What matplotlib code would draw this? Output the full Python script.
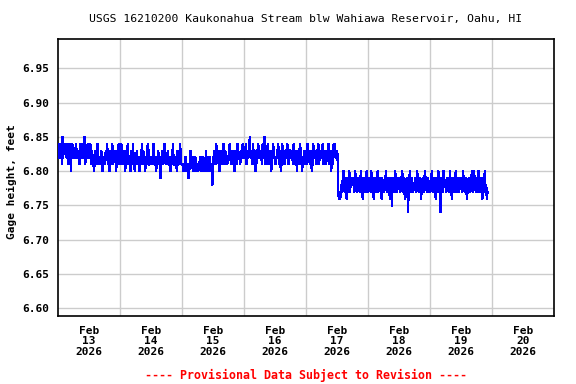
import matplotlib
matplotlib.use("Agg")
import matplotlib.pyplot as plt
import matplotlib.dates as mdates
import numpy as np
import pandas as pd

title = "USGS 16210200 Kaukonahua Stream blw Wahiawa Reservoir, Oahu, HI"
ylabel = "Gage height, feet"
footer = "---- Provisional Data Subject to Revision ----"
start_time = "2026-02-13 00:00"
interval = "15min"

# Gage height readings (15-min), coded as hundredths of a foot above a base
upper_base = 6.78   # Feb 13 00:00 - Feb 17 12:15
upper_codes = [
    "564656374656546536462565",
    "454564545365464547345464",
    "446354432543465344354243",
    "435464342543634454245365",
    "346343452443643424536432",
    "435434243463534243465334",
    "343463342435434135434643",
    "435334243463343425334643",
    "332324423312353432342423",
    "323342423423252343243230",
    "345436454325434564354434",
    "456434543245436544345465",
    "445635445745436454234564",
    "454436547344563445234654",
    "434456345236544354564345",
    "545436453425435634244354",
    "436544354236554434563445",
    "45634453454634524356654454",
]
lower_base = 6.74   # Feb 17 12:30 - Feb 19 22:15
lower_codes = [
    "3222343564345234563454",
    "454365434543464325434563",
    "345436543254345634543254",
    "434563454325414543654345",
    "543456345234540456345434",
    "454365434523454365434543",
    "345634543254365404543654",
    "434543464325434563454345",
    "543654345234543456346543",
    "453654345234563423",
]

yticks = [6.60, 6.65, 6.70, 6.75, 6.80, 6.85, 6.90, 6.95]
day_labels = ["Feb\n13\n2026", "Feb\n14\n2026", "Feb\n15\n2026", "Feb\n16\n2026",
              "Feb\n17\n2026", "Feb\n18\n2026", "Feb\n19\n2026", "Feb\n20\n2026"]

values = [upper_base + int(c) * 0.01 for c in "".join(upper_codes)] + \
         [lower_base + int(c) * 0.01 for c in "".join(lower_codes)]
times = pd.date_range(start_time, periods=len(values), freq=interval)

mono = "DejaVu Sans Mono"
fig = plt.figure(figsize=(5.76, 3.84), dpi=100)
W, H = 576, 384
ax = fig.add_axes([58 / W, 1 - 316 / H, 496 / W, 277 / H])

ax.plot(times, values, color="#0000ff", lw=1.0, antialiased=False, zorder=3)

ax.set_xlim(pd.Timestamp("2026-02-13"), pd.Timestamp("2026-02-21"))
ax.set_ylim(6.5888, 6.9928)

ax.set_yticks(yticks)
ax.set_yticklabels([f"{v:.2f}" for v in yticks], fontfamily=mono,
                   fontweight="bold", fontsize=8)
noon = pd.date_range("2026-02-13 12:00", periods=8, freq="D")
ax.set_xticks(noon)
ax.set_xticklabels(day_labels, fontfamily=mono, fontweight="bold",
                   fontsize=8, linespacing=1.05)
midnight = pd.date_range("2026-02-14", periods=7, freq="D")
ax.set_xticks(midnight, minor=True)
ax.tick_params(axis="both", which="both", length=0)
ax.tick_params(axis="x", pad=7)
ax.tick_params(axis="y", pad=6)
ax.grid(True, axis="x", which="minor", color="#cccccc", lw=1)
ax.grid(True, axis="y", which="major", color="#cccccc", lw=1)
ax.grid(False, axis="x", which="major")
for s in ax.spines.values():
    s.set_linewidth(1.2)
    s.set_color("black")

fig.text(306 / W, 1 - 19 / H, title, ha="center", va="center",
         fontfamily=mono, fontsize=8.2)
fig.text(12 / W, 1 - 182 / H, ylabel, ha="center", va="center", rotation=90,
         fontfamily=mono, fontweight="bold", fontsize=8)
fig.text(306 / W, 1 - 375 / H, footer, ha="center", va="center",
         fontfamily=mono, fontweight="bold", fontsize=8.4, color="red")

fig.savefig("out.png", dpi=100)
